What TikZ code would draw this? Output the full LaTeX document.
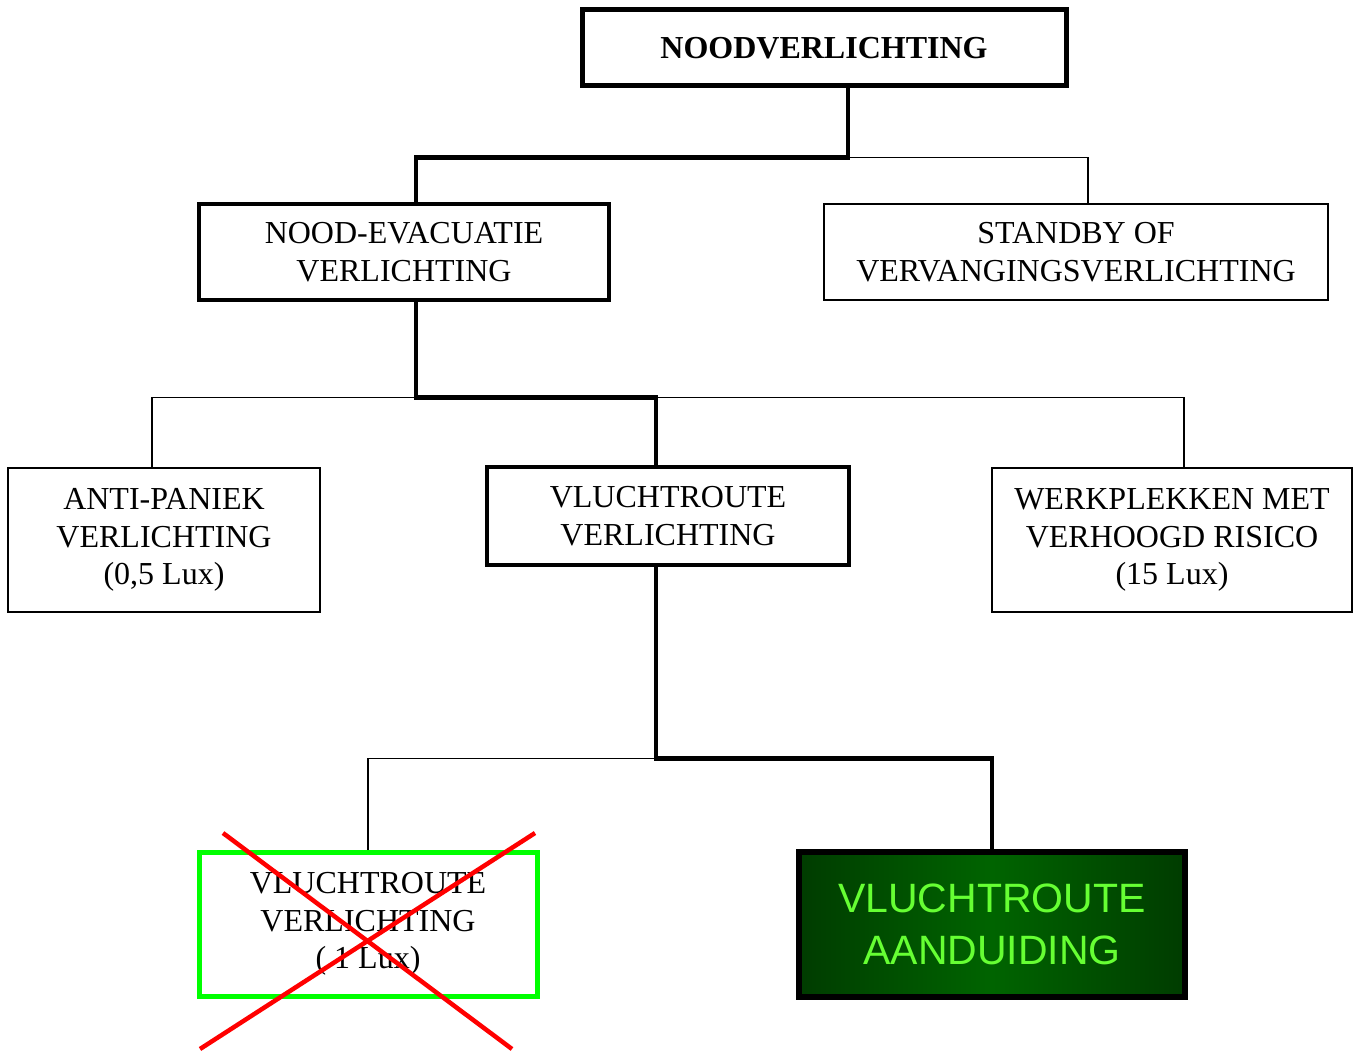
\documentclass[tikz,border=0pt]{standalone}
\usepackage{fontspec}
\setmainfont{Liberation Serif}
\newfontfamily\arialfont{Liberation Sans}
\definecolor{crossred}{RGB}{255,0,0}
\definecolor{boxgreen}{RGB}{0,255,0}
\definecolor{txtgreen}{RGB}{102,255,51}
\definecolor{dkgreen}{RGB}{0,60,0}
\definecolor{midgreen}{RGB}{0,100,0}
\begin{document}
\begin{tikzpicture}[x=1pt,y=-1pt,
  box/.style={draw=black,line width=1.5pt,align=center,inner sep=0pt,
    font=\fontsize{32}{37.5}\selectfont},
  boldbox/.style={box,line width=4.5pt},
  thinline/.style={line width=1.5pt},
  thickline/.style={line width=4.5pt}]
\useasboundingbox (0,0) rectangle (1359,1051);

\node[boldbox,line width=5pt,minimum width=484pt,minimum height=76pt,font=\fontsize{32}{37.5}\selectfont\bfseries] (root) at (824,48) {NOODVERLICHTING};
\node[boldbox,minimum width=410pt,minimum height=96pt] (evac) at (404,252) {NOOD-EVACUATIE\\VERLICHTING};
\node[box,minimum width=504pt,minimum height=96pt] (standby) at (1076,252) {STANDBY OF\\VERVANGINGSVERLICHTING};
\node[box,minimum width=312pt,minimum height=144pt] (anti) at (164,540) {ANTI-PANIEK\\VERLICHTING\\(0,5 Lux)};
\node[boldbox,minimum width=362pt,minimum height=98pt] (vr) at (668,516) {VLUCHTROUTE\\VERLICHTING};
\node[box,minimum width=360pt,minimum height=144pt] (werk) at (1172,540) {WERKPLEKKEN MET\\VERHOOGD RISICO\\(15 Lux)};
\node[box,draw=boxgreen,line width=5pt,minimum width=338pt,minimum height=144pt] (vr1) at (368,924) {VLUCHTROUTE\\VERLICHTING\\( 1 Lux)};
\node[box,line width=6pt,minimum width=386pt,minimum height=145pt,
  left color=dkgreen,right color=dkgreen,middle color=midgreen,
  text=txtgreen,font=\arialfont\fontsize{41}{52}\selectfont] (aand) at (992,924.5) {VLUCHTROUTE\\AANDUIDING};

% level 1
\draw[thinline] ([xshift=24pt]root.south) ++(0,69) -| ([xshift=12pt]standby.north);
\draw[thickline] ([xshift=24pt]root.south) -- ++(0,69) -| ([xshift=12pt]evac.north);
% level 2
\draw[thinline] ([xshift=12pt]evac.south) ++(0,95) -| ([xshift=-12pt]anti.north);
\draw[thinline] ([xshift=12pt]evac.south) ++(0,95) -| ([xshift=12pt]werk.north);
\draw[thickline] ([xshift=12pt]evac.south) -- ++(0,95) -| ([xshift=-12pt]vr.north);
% level 3
\draw[thinline] ([xshift=-12pt]vr.south) ++(0,191) -| (vr1.north);
\draw[thickline] ([xshift=-12pt]vr.south) -- ++(0,191) -| (aand.north);

% red cross
\draw[crossred,line width=4.5pt] (223,833) -- (512,1049);
\draw[crossred,line width=4.5pt] (535,833) -- (200,1049);
\end{tikzpicture}
\end{document}
